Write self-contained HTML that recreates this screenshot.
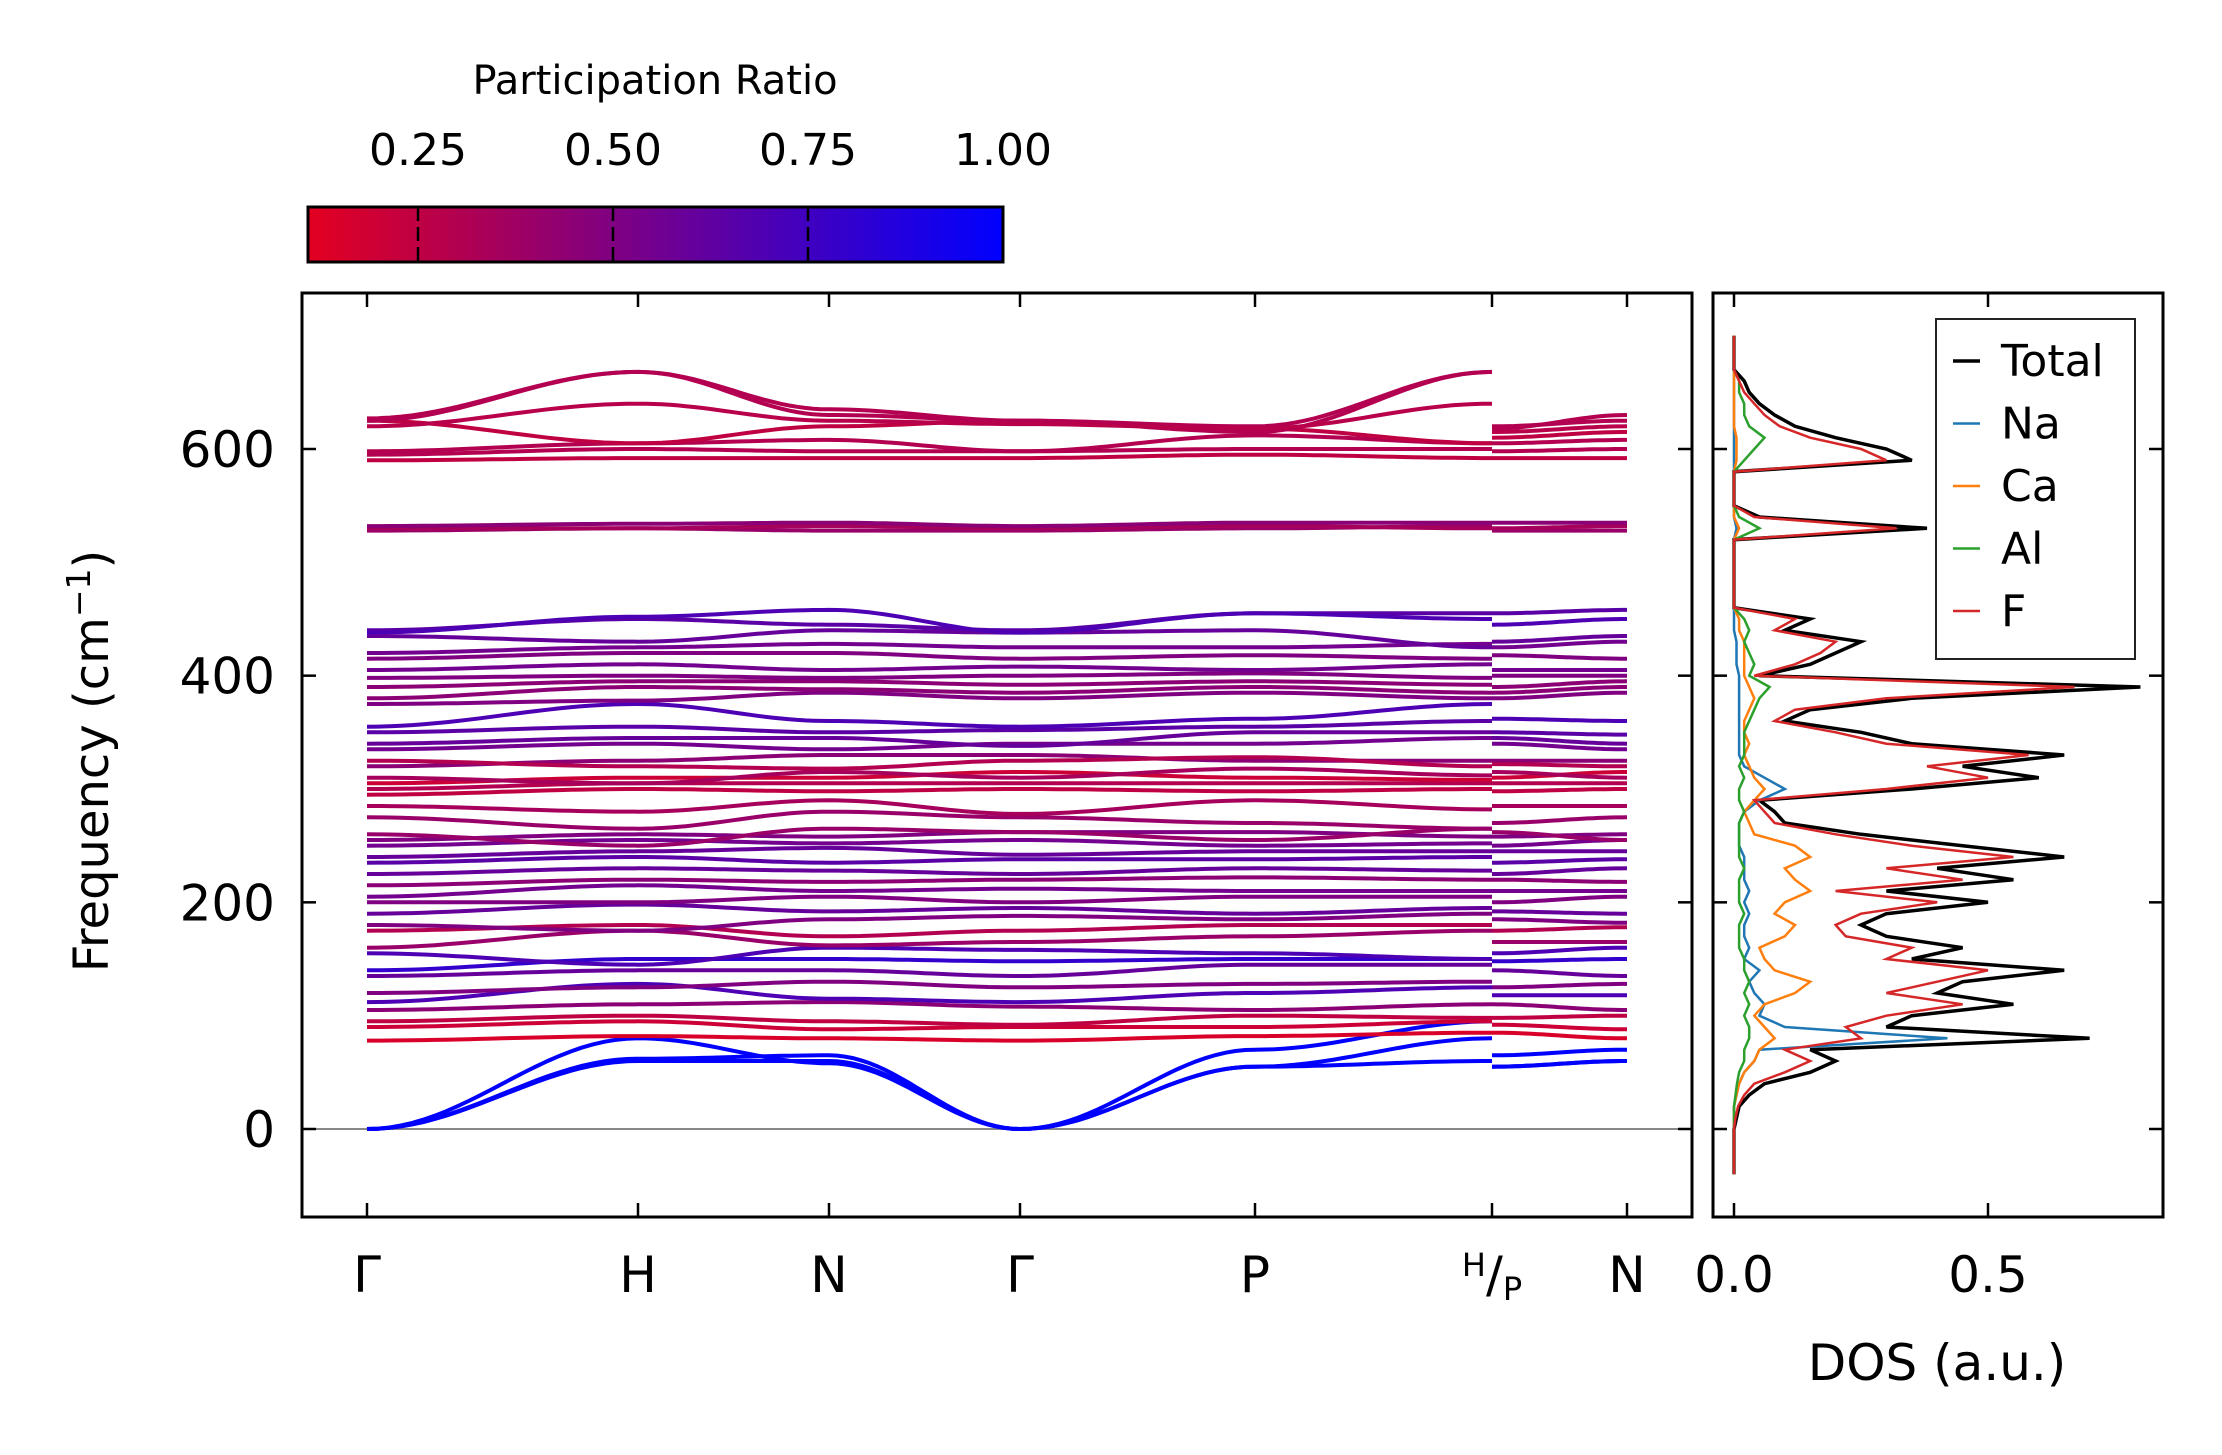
<!DOCTYPE html>
<html><head><meta charset="utf-8"><style>
html,body{margin:0;padding:0;background:#fff;}
svg{display:block;font-family:"DejaVu Sans","Liberation Sans",sans-serif;}
</style></head><body>
<svg id="fig" width="2222" height="1455" viewBox="0 0 2222 1455" xmlns="http://www.w3.org/2000/svg">
<defs>
<linearGradient id="cbgrad" x1="0" x2="1" y1="0" y2="0">
<stop offset="0" stop-color="rgb(227,0,32)"/><stop offset="1" stop-color="rgb(0,0,255)"/>
</linearGradient>
<clipPath id="bandclip"><rect x="302" y="293" width="1390" height="924"/></clipPath>
<clipPath id="dosclip"><rect x="1713" y="293" width="450" height="924"/></clipPath>
</defs>
<g id="colorbar">
<text x="655" y="94" font-size="40" text-anchor="middle">Participation Ratio</text>
<rect x="308" y="207" width="695" height="55" fill="url(#cbgrad)" stroke="#000" stroke-width="3"/>
<g id="cbticks"></g>
</g>
<g id="bands">
<line x1="302" x2="1692" y1="1129" y2="1129" stroke="#888" stroke-width="2"/>
<g id="bandlines" clip-path="url(#bandclip)"></g>
<rect x="302" y="293" width="1390" height="924" fill="none" stroke="#000" stroke-width="3"/>
<g id="bandticks"></g>
<text transform="translate(108,761) rotate(-90)" font-size="48" text-anchor="middle">Frequency (cm<tspan font-size="33" dy="-18">−1</tspan><tspan dy="18">)</tspan></text>
</g>
<g id="dos">
<g id="doslines" clip-path="url(#dosclip)"></g>
<rect x="1713" y="293" width="450" height="924" fill="none" stroke="#000" stroke-width="3"/>
<g id="dosticks"></g>
<text x="1937" y="1380" font-size="50" text-anchor="middle">DOS (a.u.)</text>
<g id="legend">
<rect x="1936" y="319" width="199" height="340" fill="#fff" stroke="#222" stroke-width="2"/>
</g>
</g>
</svg>
<script>
const NS="http://www.w3.org/2000/svg";
// ---- data ----
const kLabels=["Γ","H","N","Γ","P","H|P","N"];
const yTicks=[0,200,400,600];
const cbTicks=[0.25,0.50,0.75,1.00];
const dosTicks=[0.0,0.5];
// band frequencies at Γ,H,N,Γ,P,H then P,N ; last = participation ratio
const bandData=[
[0,80,58,0,55,80,55,60,1.0],
[0,60,60,0,55,60,55,60,1.0],
[0,62,65,0,70,95,65,70,1.0],
[78,82,80,78,82,85,85,80,0.15],
[90,95,88,90,90,95,92,88,0.2],
[95,100,95,92,100,98,98,100,0.25],
[105,110,112,108,105,110,110,105,0.45],
[112,128,115,112,120,125,118,118,0.7],
[120,125,130,125,128,130,125,128,0.5],
[135,140,140,135,145,145,140,135,0.6],
[140,150,150,148,150,150,148,150,0.8],
[155,145,160,158,155,150,155,160,0.7],
[160,175,162,165,170,175,165,165,0.4],
[175,180,170,175,180,180,175,178,0.3],
[180,175,185,188,185,190,185,182,0.5],
[190,198,192,195,190,195,192,190,0.6],
[200,200,205,200,205,205,200,205,0.5],
[205,215,210,212,210,210,210,210,0.55],
[215,220,218,220,222,220,220,218,0.45],
[225,230,228,225,230,228,225,230,0.6],
[235,240,235,238,238,240,235,238,0.65],
[240,245,248,242,245,245,245,245,0.6],
[250,255,252,255,250,252,250,255,0.55],
[255,260,258,262,262,258,258,260,0.5],
[260,250,265,262,255,265,262,255,0.4],
[275,265,280,275,270,265,270,275,0.4],
[285,280,290,278,290,282,285,285,0.35],
[295,300,298,300,298,300,298,300,0.25],
[300,305,305,305,305,305,305,305,0.3],
[305,310,310,315,310,308,310,315,0.2],
[310,305,315,310,318,312,315,310,0.35],
[320,325,330,330,325,325,325,325,0.45],
[325,320,318,325,328,320,322,320,0.3],
[335,340,335,340,340,345,340,335,0.55],
[340,345,345,338,350,350,345,340,0.6],
[350,355,350,352,355,360,350,348,0.65],
[355,375,360,355,362,375,362,360,0.7],
[375,378,385,380,385,380,380,385,0.5],
[380,390,388,385,390,385,385,390,0.45],
[390,395,395,392,395,392,390,395,0.45],
[398,400,398,400,402,398,400,400,0.5],
[405,410,405,408,405,410,405,405,0.55],
[415,420,420,415,418,415,418,415,0.5],
[420,425,428,425,425,428,425,430,0.55],
[435,430,440,438,440,425,430,435,0.6],
[440,450,445,440,455,455,455,458,0.65],
[438,452,458,438,455,450,445,450,0.7],
[528,530,528,528,530,532,528,528,0.4],
[530,530,532,530,532,530,530,532,0.35],
[532,534,535,532,535,535,535,535,0.45],
[590,592,592,592,595,592,592,592,0.25],
[595,600,598,598,600,600,598,600,0.3],
[598,605,608,598,612,605,605,608,0.3],
[625,605,620,625,618,605,610,615,0.25],
[625,668,630,625,620,668,620,625,0.3],
[627,668,635,625,615,668,618,630,0.3],
[620,640,625,622,618,640,615,620,0.28]
];
// DOS on frequency grid -40..700 step 10
const dosFreq=[];for(let f=-40;f<=700;f+=10)dosFreq.push(f);
const dosTotal=[0,0,0,0,0,0.005,0.01,0.03,0.06,0.15,0.2,0.15,0.7,0.3,0.35,0.55,0.4,0.45,0.65,0.35,0.45,0.3,0.25,0.3,0.5,0.3,0.55,0.4,0.65,0.45,0.25,0.1,0.08,0.05,0.35,0.6,0.45,0.65,0.35,0.25,0.1,0.15,0.35,0.8,0.05,0.15,0.2,0.25,0.1,0.15,0,0,0,0,0,0,0,0.38,0.05,0,0,0,0,0.35,0.3,0.2,0.12,0.08,0.05,0.03,0.02,0,0,0,0];
const dosF=[0,0,0,0,0,0.003,0.008,0.02,0.04,0.1,0.15,0.1,0.25,0.22,0.3,0.45,0.3,0.4,0.5,0.3,0.35,0.22,0.2,0.25,0.4,0.2,0.45,0.3,0.55,0.35,0.2,0.08,0.06,0.04,0.3,0.5,0.38,0.58,0.3,0.2,0.08,0.12,0.3,0.67,0.04,0.12,0.17,0.2,0.08,0.12,0,0,0,0,0,0,0,0.32,0.04,0,0,0,0,0.3,0.25,0.15,0.09,0.06,0.04,0.02,0.01,0,0,0,0];
const dosNa=[0,0,0,0,0,0,0,0.005,0.01,0.02,0.04,0.05,0.42,0.1,0.05,0.06,0.04,0.03,0.05,0.02,0.03,0.02,0.02,0.03,0.02,0.03,0.02,0.02,0.02,0.01,0.01,0.01,0.02,0.05,0.1,0.06,0.02,0.01,0.01,0.01,0.01,0.01,0.01,0.01,0.01,0.005,0.005,0.005,0,0,0,0,0,0,0,0,0,0.005,0,0,0,0,0,0,0,0,0,0,0,0,0,0,0,0,0];
const dosCa=[0,0,0,0,0,0,0,0.005,0.01,0.02,0.04,0.05,0.08,0.06,0.04,0.06,0.12,0.15,0.08,0.06,0.05,0.1,0.12,0.08,0.1,0.15,0.12,0.1,0.15,0.12,0.04,0.03,0.02,0.04,0.06,0.04,0.03,0.02,0.03,0.02,0.02,0.03,0.04,0.03,0.02,0.02,0.02,0.02,0.01,0.01,0,0,0,0,0,0,0,0.01,0,0,0,0,0,0.005,0.005,0.005,0,0,0,0,0,0,0,0,0];
const dosAl=[0,0,0,0,0,0,0,0.003,0.006,0.01,0.02,0.02,0.03,0.03,0.02,0.03,0.02,0.03,0.02,0.02,0.01,0.01,0.01,0.02,0.01,0.01,0.01,0.02,0.01,0.01,0.01,0.01,0.02,0.01,0.01,0.02,0.01,0.02,0.02,0.02,0.03,0.04,0.05,0.07,0.03,0.04,0.03,0.02,0.03,0.02,0,0,0,0,0,0,0,0.05,0.01,0,0,0,0,0.02,0.04,0.06,0.03,0.02,0.02,0.01,0.01,0,0,0,0];
// ---- scales ----
const kX=[367,638,829,1020,1255,1492,1627];
const yS=v=>1129-v*(680/600);
const xD=v=>1734+v*508;
const cbX=v=>418+(v-0.25)*780;
function prColor(p){const t=Math.max(0,Math.min(1,(p-0.11)/0.89));return `rgb(${Math.round(227*(1-t))},0,${Math.round(32+223*t)})`;}
function mk(tag,attrs,parent){const e=document.createElementNS(NS,tag);for(const k in attrs)e.setAttribute(k,attrs[k]);parent.appendChild(e);return e;}
// colorbar ticks
const cbt=document.getElementById('cbticks');
cbTicks.forEach(v=>{const x=cbX(v);
 if(v<1){const l=mk('line',{x1:x,x2:x,y1:207,y2:262,stroke:'#000','stroke-width':2.5,'stroke-dasharray':'14 6'},cbt);
 
 }
 const t=mk('text',{x:x,y:165,'font-size':44,'text-anchor':'middle'},cbt);t.textContent=v.toFixed(2);
 
 });
// bands
const bl=document.getElementById('bandlines');
function seg(xa,xb,fa,fb,pts){for(let i=0;i<=24;i++){const s=i/24,w=(1-Math.cos(Math.PI*s))/2;pts.push([xa+(xb-xa)*s,yS(fa+(fb-fa)*w)]);}}
bandData.forEach((b,bi)=>{const col=prColor(b[8]);let pts=[];
 for(let j=0;j<5;j++)seg(kX[j],kX[j+1],b[j],b[j+1],pts);
 const p1=mk('polyline',{points:pts.map(p=>p[0].toFixed(1)+','+p[1].toFixed(1)).join(' '),fill:'none',stroke:col,'stroke-width':4},bl);
 
 
 let q=[];seg(kX[5],kX[6],b[6],b[7],q);
 const p2=mk('polyline',{points:q.map(p=>p[0].toFixed(1)+','+p[1].toFixed(1)).join(' '),fill:'none',stroke:col,'stroke-width':4},bl);
 
 });
// band ticks
const bt=document.getElementById('bandticks');
kX.forEach((x,i)=>{mk('line',{x1:x,x2:x,y1:1217,y2:1203,stroke:'#000','stroke-width':2.5},bt);mk('line',{x1:x,x2:x,y1:293,y2:307,stroke:'#000','stroke-width':2.5},bt);
 const t=mk('text',{x:x,y:1292,'font-size':50,'text-anchor':'middle'},bt);
 if(kLabels[i]==='H|P'){t.innerHTML='<tspan font-size="32" dy="-16">H</tspan><tspan dy="16">/</tspan><tspan font-size="32" dy="8">P</tspan>';}else t.textContent=kLabels[i];
 
 });
yTicks.forEach(v=>{const y=yS(v);mk('line',{x1:302,x2:316,y1:y,y2:y,stroke:'#000','stroke-width':2.5},bt);mk('line',{x1:1692,x2:1678,y1:y,y2:y,stroke:'#000','stroke-width':2.5},bt);
 const t=mk('text',{x:275,y:y+18,'font-size':50,'text-anchor':'end'},bt);t.textContent=v;
 
 });
// DOS
const dl=document.getElementById('doslines');
const series=[[dosTotal,'#000',3.5,'Total'],[dosNa,'#1f77b4',2.5,'Na'],[dosCa,'#ff7f0e',2.5,'Ca'],[dosAl,'#2ca02c',2.5,'Al'],[dosF,'#d62728',2.5,'F']];
series.forEach(s=>{const pts=s[0].map((v,i)=>xD(v).toFixed(1)+','+yS(dosFreq[i]).toFixed(1)).join(' ');
 const p=mk('polyline',{points:pts,fill:'none',stroke:s[1],'stroke-width':s[2]},dl);
 
 });
const dt=document.getElementById('dosticks');
dosTicks.forEach(v=>{const x=xD(v);mk('line',{x1:x,x2:x,y1:1217,y2:1203,stroke:'#000','stroke-width':2.5},dt);mk('line',{x1:x,x2:x,y1:293,y2:307,stroke:'#000','stroke-width':2.5},dt);
 const t=mk('text',{x:x,y:1292,'font-size':50,'text-anchor':'middle'},dt);t.textContent=v.toFixed(1);
 
 });
yTicks.forEach(v=>{const y=yS(v);mk('line',{x1:1713,x2:1727,y1:y,y2:y,stroke:'#000','stroke-width':2.5},dt);mk('line',{x1:2163,x2:2149,y1:y,y2:y,stroke:'#000','stroke-width':2.5},dt);});
// legend
const lg=document.getElementById('legend');
series.forEach((s,i)=>{const y=361+i*62.5;
 const l=mk('line',{x1:1953,x2:1980,y1:y,y2:y,stroke:s[1],'stroke-width':s[2]},lg);
 
 
 const t=mk('text',{x:2001,y:y+15,'font-size':44},lg);t.textContent=s[3];
 
 });
</script>
</body></html>
